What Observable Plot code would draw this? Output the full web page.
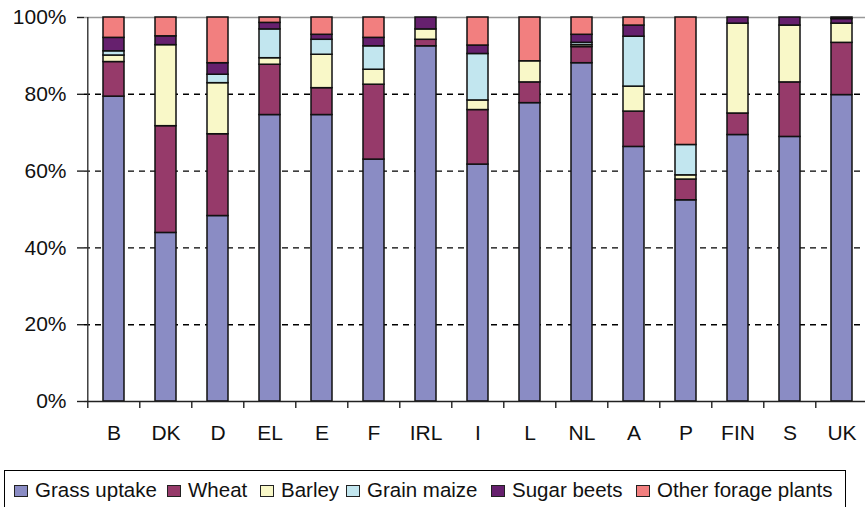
<!DOCTYPE html>
<html>
<head>
<meta charset="utf-8">
<script src="https://cdn.jsdelivr.net/npm/d3@7"></script>
<script src="https://cdn.jsdelivr.net/npm/@observablehq/plot@0.6"></script>
<style>
  html, body { margin: 0; padding: 0; background: #fff; overflow: hidden; }
  body { font-family: "Liberation Sans", Arial, sans-serif; width: 865px; height: 507px; position: relative; }
  #chart { position: absolute; left: 0; top: 0; }
  #chart svg text { font-size: 21px; }
  #legend {
    position: absolute; left: 4px; top: 470px; width: 842px; height: 48px;
    border: 1px solid #000; box-sizing: border-box;
    font-size: 20.5px; color: #111; white-space: nowrap;
  }
  .sw { position: absolute; top: 14px; width: 12px; height: 10px; border: 1px solid #222; }
  .tx { position: absolute; top: 7px; line-height: 24px; }
</style>
</head>
<body>
<div id="chart"></div>
<div id="legend"></div>
<script>
const countries = ["B","DK","D","EL","E","F","IRL","I","L","NL","A","P","FIN","S","UK"];
const crops = ["Grass uptake","Wheat","Barley","Grain maize","Sugar beets","Other forage plants"];
const colors = ["#8a8cc4","#963a6a","#f9f8c8","#c2e6ef","#66206e","#f27f7f"];

const grass      = [79.4, 43.9, 48.3, 74.6, 74.6, 63.0, 92.5, 61.7, 77.7, 88.1, 66.3, 52.4, 69.4, 68.9, 79.8];
const wheat      = [ 9.0, 27.8, 21.3, 13.1,  7.0, 19.5,  1.7, 14.2,  5.4,  4.2,  9.2,  5.4,  5.6, 14.2, 13.6];
const barley     = [ 1.7, 21.1, 13.3,  1.7,  8.7,  3.9,  2.7,  2.5,  5.5,  0.5,  6.5,  1.1, 23.4, 14.8,  5.0];
const grainMaize = [ 1.1,  0.0,  2.2,  7.5,  3.9,  6.1,  0.0, 12.1,  0.0,  0.6, 13.0,  7.9,  0.0,  0.0,  0.0];
const sugarBeets = [ 3.5,  2.3,  3.0,  1.7,  1.3,  2.2,  3.1,  2.2,  0.0,  2.1,  2.9,  0.0,  1.6,  2.1,  1.2];
const otherForage= [ 5.3,  4.9, 11.9,  1.4,  4.5,  5.3,  0.0,  7.3, 11.4,  4.5,  2.1, 33.2,  0.0,  0.0,  0.4];

const yTicks = [0, 20, 40, 60, 80, 100];

const series = [grass, wheat, barley, grainMaize, sugarBeets, otherForage];
const data = [];
countries.forEach((c, i) => {
  series.forEach((s, k) => {
    if (s[i] > 0) data.push({country: c, crop: crops[k], value: s[i]});
  });
});

const step = (870.4 - 84) / countries.length;

const plot = Plot.plot({
  width: 865,
  height: 462,
  marginTop: 17,
  marginBottom: 61,
  marginLeft: 84,
  marginRight: 0,
  style: {fontFamily: '"Liberation Sans", Arial, sans-serif', fontSize: "21px", color: "#111", background: "#fff", overflow: "visible"},
  x: {domain: countries, range: [84, 870.4], paddingInner: 0.6, paddingOuter: 0.3, label: null},
  y: {domain: [0, 100], label: null},
  color: {domain: crops, range: colors},
  marks: [
    Plot.ruleY([20, 40, 60, 80], {stroke: "#000", strokeWidth: 1.4, strokeDasharray: "6,5"}),
    Plot.ruleY([100], {stroke: "#999", strokeWidth: 1.3}),
    Plot.barY(data, Plot.stackY({x: "country", y: "value", fill: "crop", z: "crop", order: crops, stroke: "#111", strokeWidth: 1.5})),
    Plot.ruleX([countries[0]], {x: d => d, dx: -step / 2, y1: 0, y2: 100, stroke: "#333", strokeWidth: 1.4}),
    Plot.ruleY([0], {stroke: "#222", strokeWidth: 1.4}),
    Plot.axisY({ticks: yTicks, tickFormat: d => d + "%", tickSize: 7, tickPadding: 11, stroke: "#222", strokeWidth: 1.4, fontSize: 21, label: null}),
    Plot.axisX({tickSize: 7, text: null, dx: -step / 2, stroke: "#222", strokeWidth: 1.4, label: null}),
    Plot.axisX({tickSize: 0, tickPadding: 24, fontSize: 21, label: null})
  ]
});
document.getElementById("chart").appendChild(plot);

// text start positions inside the legend box
const legendText = [30, 183, 276, 362, 507, 652];
const legend = document.getElementById("legend");
crops.forEach((c, k) => {
  const sw = document.createElement("span");
  sw.className = "sw";
  sw.style.left = (legendText[k] - 21) + "px";
  sw.style.background = colors[k];
  const t = document.createElement("span");
  t.className = "tx";
  t.style.left = legendText[k] + "px";
  t.textContent = c;
  legend.appendChild(sw);
  legend.appendChild(t);
});
</script>
</body>
</html>
